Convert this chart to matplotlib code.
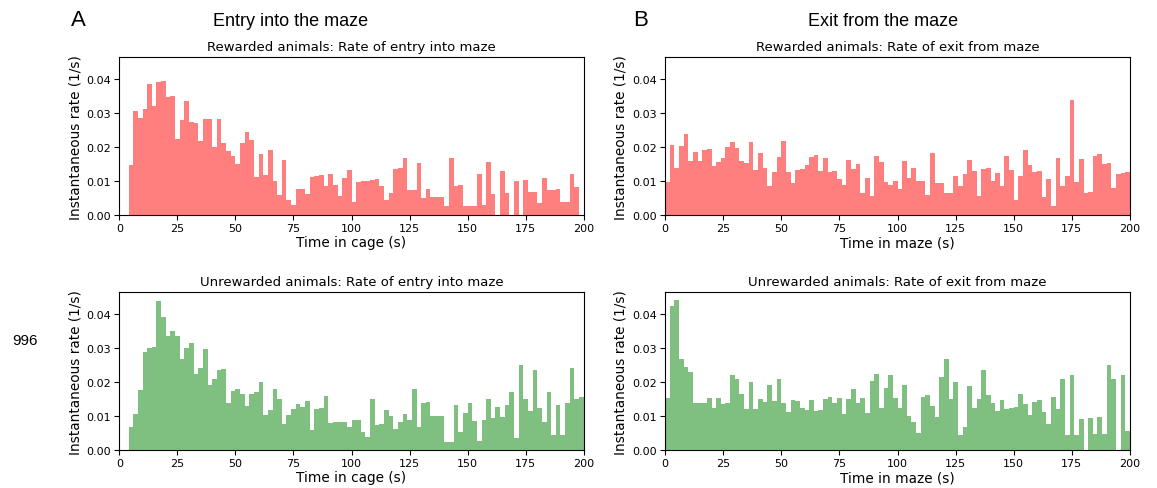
import numpy as np
import matplotlib
matplotlib.use("Agg")
import matplotlib.pyplot as plt

# ---- data (instantaneous rates per 2 s bin) ----
bin_width = 2
entry_start = 4
exit_start = 0

entry_rewarded = [
    0.0147, 0.0308, 0.0285, 0.0313, 0.0387, 0.0321, 0.0392, 0.0396, 0.0348, 0.0352,
    0.0225, 0.0279, 0.0335, 0.0275, 0.0270, 0.0217, 0.0282, 0.0282, 0.0200, 0.0283,
    0.0211, 0.0190, 0.0175, 0.0149, 0.0211, 0.0245, 0.0220, 0.0112, 0.0180, 0.0119,
    0.0192, 0.0099, 0.0058, 0.0162, 0.0044, 0.0029, 0.0076, 0.0078, 0.0062, 0.0112,
    0.0115, 0.0117, 0.0085, 0.0122, 0.0089, 0.0055, 0.0110, 0.0132, 0.0037, 0.0097,
    0.0099, 0.0100, 0.0103, 0.0105, 0.0085, 0.0043, 0.0065, 0.0136, 0.0139, 0.0167,
    0.0073, 0.0074, 0.0152, 0.0051, 0.0077, 0.0054, 0.0054, 0.0054, 0.0026, 0.0168,
    0.0085, 0.0087, 0.0028, 0.0028, 0.0028, 0.0121, 0.0029, 0.0156, 0.0062, 0.0,
    0.0131, 0.0065, 0.0, 0.0101, 0.0, 0.0103, 0.0069, 0.0069, 0.0034, 0.0110,
    0.0074, 0.0075, 0.0077, 0.0038, 0.0038, 0.0120, 0.0082]

exit_rewarded = [
    0.0097, 0.0207, 0.0140, 0.0203, 0.0239, 0.0160, 0.0185, 0.0160, 0.0192, 0.0195,
    0.0144, 0.0157, 0.0167, 0.0201, 0.0215, 0.0198, 0.0160, 0.0154, 0.0216, 0.0132,
    0.0182, 0.0140, 0.0086, 0.0126, 0.0171, 0.0219, 0.0126, 0.0093, 0.0133, 0.0137,
    0.0147, 0.0170, 0.0176, 0.0129, 0.0168, 0.0128, 0.0131, 0.0105, 0.0087, 0.0162,
    0.0135, 0.0149, 0.0064, 0.0110, 0.0057, 0.0173, 0.0155, 0.0098, 0.0087, 0.0101,
    0.0077, 0.0159, 0.0109, 0.0139, 0.0100, 0.0101, 0.0059, 0.0182, 0.0094, 0.0095,
    0.0064, 0.0065, 0.0116, 0.0085, 0.0122, 0.0163, 0.0129, 0.0056, 0.0135, 0.0139,
    0.0101, 0.0123, 0.0085, 0.0174, 0.0134, 0.0044, 0.0115, 0.0192, 0.0148, 0.0127,
    0.0130, 0.0053, 0.0107, 0.0026, 0.0167, 0.0085, 0.0116, 0.0340, 0.0096, 0.0165,
    0.0066, 0.0067, 0.0174, 0.0180, 0.0150, 0.0154, 0.0079, 0.0120, 0.0124, 0.0127]

entry_unrewarded = [
    0.0068, 0.0106, 0.0176, 0.0290, 0.0301, 0.0305, 0.0440, 0.0391, 0.0337, 0.0351,
    0.0335, 0.0269, 0.0302, 0.0316, 0.0224, 0.0242, 0.0298, 0.0193, 0.0209, 0.0235,
    0.0238, 0.0140, 0.0174, 0.0180, 0.0166, 0.0130, 0.0165, 0.0172, 0.0201, 0.0103,
    0.0117, 0.0181, 0.0150, 0.0076, 0.0103, 0.0120, 0.0136, 0.0127, 0.0144, 0.0059,
    0.0121, 0.0123, 0.0158, 0.0081, 0.0082, 0.0083, 0.0084, 0.0069, 0.0088, 0.0088,
    0.0054, 0.0037, 0.0149, 0.0075, 0.0077, 0.0118, 0.0100, 0.0061, 0.0083, 0.0105,
    0.0087, 0.0179, 0.0068, 0.0140, 0.0143, 0.0099, 0.0100, 0.0101, 0.0024, 0.0024,
    0.0132, 0.0054, 0.0109, 0.0140, 0.0086, 0.0028, 0.0088, 0.0150, 0.0093, 0.0126,
    0.0097, 0.0132, 0.0170, 0.0034, 0.0250, 0.0149, 0.0114, 0.0237, 0.0123, 0.0083,
    0.0172, 0.0043, 0.0134, 0.0045, 0.0139, 0.0241, 0.0151, 0.0155]

exit_unrewarded = [
    0.0153, 0.0425, 0.0443, 0.0269, 0.0246, 0.0231, 0.0138, 0.0138, 0.0138, 0.0154,
    0.0123, 0.0153, 0.0135, 0.0139, 0.0220, 0.0209, 0.0166, 0.0120, 0.0201, 0.0122,
    0.0150, 0.0141, 0.0193, 0.0144, 0.0208, 0.0140, 0.0113, 0.0148, 0.0144, 0.0124,
    0.0119, 0.0147, 0.0115, 0.0118, 0.0150, 0.0155, 0.0139, 0.0153, 0.0105, 0.0151,
    0.0180, 0.0139, 0.0154, 0.0109, 0.0202, 0.0223, 0.0123, 0.0182, 0.0220, 0.0152,
    0.0125, 0.0193, 0.0100, 0.0084, 0.0051, 0.0157, 0.0161, 0.0130, 0.0096, 0.0216,
    0.0268, 0.0151, 0.0200, 0.0045, 0.0069, 0.0189, 0.0123, 0.0151, 0.0235, 0.0163,
    0.0140, 0.0115, 0.0147, 0.0122, 0.0125, 0.0127, 0.0164, 0.0136, 0.0103, 0.0141,
    0.0146, 0.0112, 0.0076, 0.0156, 0.0121, 0.0208, 0.0043, 0.0220, 0.0045, 0.0091,
    0.0, 0.0093, 0.0047, 0.0096, 0.0048, 0.0251, 0.0210, 0.0, 0.0220, 0.0056]

titles = ["Rewarded animals: Rate of entry into maze",
          "Rewarded animals: Rate of exit from maze",
          "Unrewarded animals: Rate of entry into maze",
          "Unrewarded animals: Rate of exit from maze"]
xlabels = ["Time in cage (s)", "Time in maze (s)",
           "Time in cage (s)", "Time in maze (s)"]
ylabel = "Instantaneous rate (1/s)"
yticks = [0.00, 0.01, 0.02, 0.03, 0.04]
xticks = [0, 25, 50, 75, 100, 125, 150, 175, 200]

W, H = 1157, 489
fig = plt.figure(figsize=(W / 100, H / 100), dpi=100)

def px_axes(x0, y0, x1, y1):
    return fig.add_axes([x0 / W, 1 - y1 / H, (x1 - x0) / W, (y1 - y0) / H])

axes_px = [(119.3, 58.3, 583.7, 216.0), (665.0, 58.3, 1130.0, 216.0),
           (119.3, 293.3, 583.7, 451.0), (665.0, 293.3, 1130.0, 451.0)]
series = [(entry_rewarded, entry_start, "red"),
          (exit_rewarded, exit_start, "red"),
          (entry_unrewarded, entry_start, "green"),
          (exit_unrewarded, exit_start, "green")]

for pos, (vals, start, col), title, xl in zip(axes_px, series, titles, xlabels):
    ax = px_axes(*pos)
    vals = np.asarray(vals)
    edges = start + bin_width * np.arange(len(vals) + 1)
    ax.hist(edges[:-1], bins=edges, weights=vals, color=col, alpha=0.5)
    ax.set_xlim(0, 200)
    ax.set_ylim(0, 0.0465)
    ax.set_xticks(xticks)
    ax.set_yticks(yticks)
    ax.set_yticklabels([f"{v:.2f}" for v in yticks])
    ax.tick_params(labelsize=8, length=3.5, width=0.8, pad=2.5)
    ax.set_title(title, fontsize=9.5, pad=5)
    ax.set_xlabel(xl, fontsize=9.8, labelpad=1.5)
    ax.set_ylabel(ylabel, fontsize=9.8, labelpad=3)

fig.text(78 / W, 1 - 21 / H, "A", fontsize=16, family="Liberation Sans",
         ha="center", va="center")
fig.text(641 / W, 1 - 21 / H, "B", fontsize=16, family="Liberation Sans",
         ha="center", va="center")
fig.text(291 / W, 1 - 21 / H, "Entry into the maze", fontsize=13,
         family="Liberation Sans", ha="center", va="center")
fig.text(883 / W, 1 - 21 / H, "Exit from the maze", fontsize=13,
         family="Liberation Sans", ha="center", va="center")
fig.text(25 / W, 1 - 341 / H, "996", fontsize=11, family="Liberation Sans",
         ha="center", va="center")

fig.savefig("out.png", dpi=100)
